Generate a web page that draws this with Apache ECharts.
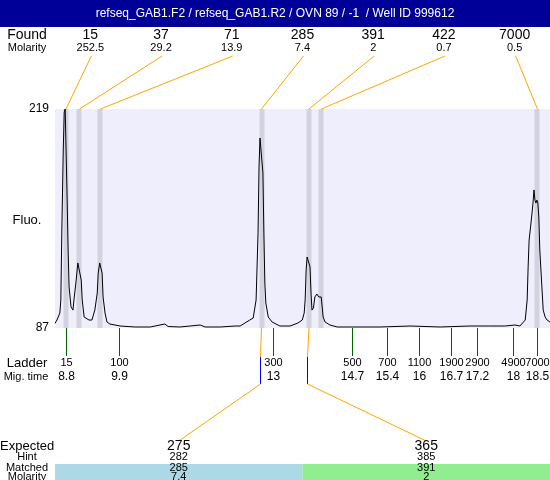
<!DOCTYPE html>
<html><head><meta charset="utf-8">
<script src="https://cdn.jsdelivr.net/npm/echarts@6/dist/echarts.min.js"></script>
<style>html,body{margin:0;padding:0;background:#fff}#c{width:550px;height:480px}</style>
</head><body><div id="c"></div>
<script>
// ---------- DATA ----------
const titleText = 'refseq_GAB1.F2 / refseq_GAB1.R2 / OVN 89 / -1  / Well ID 999612';
// electropherogram trace: [migration time, fluorescence]
const fluoTrace = [
 [8.58,89.8],[8.62,91.8],[8.68,96.0],[8.70,103.9],[8.72,144.3],[8.75,194.3],[8.77,217.2],[8.79,219],[8.81,219],
 [8.83,164.1],[8.85,134.0],[8.87,111.7],[8.91,99.7],[8.95,97.8],[8.97,103.9],[9.01,114.1],[9.05,126.2],[9.08,126.8],
 [9.12,115.9],[9.14,103.9],[9.18,93.6],[9.22,93.0],[9.28,91.8],[9.34,91.8],[9.40,97.8],[9.45,108.1],[9.47,120.1],
 [9.50,126.2],[9.53,126.8],[9.55,120.1],[9.57,105.7],[9.61,96.0],[9.65,90.6],[9.71,89.4],[9.92,88.2],[10.23,87.6],
 [10.54,87.6],[10.84,89.4],[10.91,87.9],[11.15,87.6],[11.36,88.2],[11.57,88.8],[11.67,87.6],[11.98,87.6],[12.29,88.2],
 [12.39,88.2],[12.49,90.0],[12.59,91.8],[12.66,93.0],[12.72,103.9],[12.76,144.3],[12.78,184.1],[12.80,201.5],[12.84,201.5],
 [12.86,180.5],[12.88,144.3],[12.90,114.1],[12.92,102.1],[12.97,93.6],[13.05,90.6],[13.13,89.4],[13.21,88.2],[13.42,88.2],
 [13.58,90.0],[13.67,91.8],[13.71,96.0],[13.73,103.9],[13.75,122.0],[13.77,129.8],[13.80,131.0],[13.83,123.8],[13.85,108.1],
 [13.87,97.8],[13.90,99.1],[13.93,105.7],[13.97,107.5],[14.01,105.7],[14.06,105.7],[14.08,99.7],[14.10,93.6],[14.14,90.6],
 [14.24,88.8],[14.39,87.6],[14.86,87.6],[15.27,87.6],[15.89,88.2],[16.51,87.6],[17.12,88.2],[17.53,88.2],[17.84,88.2],
 [18.05,88.8],[18.15,88.2],[18.19,89.4],[18.26,91.8],[18.30,103.9],[18.32,123.8],[18.34,140.0],[18.37,147.9],[18.40,156.3],
 [18.42,162.3],[18.44,170.2],[18.46,164.1],[18.48,162.3],[18.50,164.1],[18.52,162.3],[18.54,153.9],[18.56,134.0],[18.61,108.1],
 [18.63,97.8],[18.67,93.6],[18.71,91.8],[18.77,90.6]
];
const foundSize = ['15','37','71','285','391','422','7000'];
const foundMolarity = ['252.5','29.2','13.9','7.4','2','0.7','0.5'];
const foundTime = [8.806, 9.084, 9.516, 12.831, 13.809, 14.066, 18.512];

const ladderSize = ['15','100','300','500','700','1100','1900','2900','4900','7000'];
const ladderMigLabel = ['8.8','9.9','13','14.7','15.4','16','16.7','17.2','18','18.5'];
const ladderTime = [8.806, 9.897, 13.067, 14.694, 15.414, 16.073, 16.731, 17.267, 18.008, 18.502];

const expectedSize = ['275','365'];
const hintSize = ['282','385'];
const matchedSize = ['285','391'];
const matchedMolarity = ['7.4','2'];
const matchedTime = [12.831, 13.809];
const matchedColor = ['#ADD8E6','#90EE90'];

const yTicks = [87, 219];
const xRange = [8.58, 18.77];

// ---------- CHART ----------
const FONT = '"Liberation Sans", Arial, Helvetica, sans-serif';
const G = {left:55, top:109, width:495, height:219};
function T(x, y, s, size, extra){
  return {type:'text', x:x, y:y, silent:true, style:Object.assign({
    text:s, fontSize:size, fontFamily:FONT, fill:'#000',
    align:'center', verticalAlign:'middle', textAlign:'center', textVerticalAlign:'middle'
  }, extra||{})};
}
function L(x1,y1,x2,y2,color){
  return {type:'line', silent:true, shape:{x1:x1,y1:y1,x2:x2,y2:y2}, style:{stroke:color, lineWidth:1}};
}

const chart = echarts.init(document.getElementById('c'), null, {renderer:'canvas'});
const option = {
  animation:false,
  backgroundColor:'#ffffff',
  grid:{left:G.left, top:G.top, width:G.width, height:G.height, show:true,
        backgroundColor:'#EEEEFC', borderWidth:0, containLabel:false},
  xAxis:{type:'value', min:xRange[0], max:xRange[1], show:false},
  yAxis:{type:'value', min:yTicks[0], max:yTicks[1], interval:yTicks[1]-yTicks[0],
    axisLine:{show:false}, axisTick:{show:false}, splitLine:{show:false},
    axisLabel:{fontSize:12, color:'#000', margin:6, fontFamily:FONT}},
  graphic:[
    {type:'rect', shape:{x:0,y:0,width:550,height:27}, style:{fill:'#000099'}, silent:true},
    T(275, 14, titleText, 12, {fill:'#ffffff'}),
    T(27, 35, 'Found', 14),
    T(27, 48, 'Molarity', 11),
    T(27, 220, 'Fluo.', 13),
    T(27, 363, 'Ladder', 13),
    T(26, 377, 'Mig. time', 11),
    T(0, 446, 'Expected', 13, {align:'left', textAlign:'left'}),
    T(27, 457, 'Hint', 11),
    T(27, 468, 'Matched', 11),
    T(27, 477, 'Molarity', 11)
  ],
  series:[
    { // peak bands
      type:'custom', z:1, silent:true,
      data: foundTime.map((t,i)=>[t,i]),
      renderItem:function(params, api){
        const cs = params.coordSys;
        const p = api.coord([api.value(0), yTicks[1]]);
        return {type:'rect', shape:{x:Math.round(p[0])-2.5, y:cs.y, width:5, height:cs.height},
                style:{fill:'#D3D3E0'}};
      }
    },
    { // trace
      type:'line', z:3, silent:true, symbol:'none', data:fluoTrace,
      lineStyle:{color:'#000', width:1}
    },
    { // ladder ticks and labels
      type:'custom', z:4, silent:true,
      data: ladderTime.map((t,i)=>[t,i]),
      renderItem:function(params, api){
        const cs = params.coordSys;
        const i = api.value(1);
        const x = Math.round(api.coord([api.value(0), yTicks[0]])[0]) + 0.5;
        const yb = cs.y + cs.height;
        return {type:'group', children:[
          L(x, yb, x, yb+28, '#006400'),
          T(x, yb+35, ladderSize[i], 11),
          T(x, yb+49, ladderMigLabel[i], 12)
        ]};
      }
    },
    { // found peaks labels and connectors
      type:'custom', z:4, silent:true,
      data: foundTime.map((t,i)=>[t,i]),
      renderItem:function(params, api){
        const cs = params.coordSys;
        const i = api.value(1);
        const slot = cs.width / foundSize.length;
        const lx = cs.x + (i+0.5)*slot;
        const px = api.coord([api.value(0), yTicks[1]])[0];
        return {type:'group', children:[
          T(lx, 35, foundSize[i], 14),
          T(lx, 48, foundMolarity[i], 11),
          L(lx+1, 56, px, cs.y, '#FFA500')
        ]};
      }
    },
    { // matched / expected
      type:'custom', z:4, silent:true,
      data: matchedTime.map((t,i)=>[t,i]),
      renderItem:function(params, api){
        const cs = params.coordSys;
        const i = api.value(1);
        const slot = cs.width / matchedSize.length;
        const cx = cs.x + (i+0.5)*slot;
        const px = api.coord([api.value(0), yTicks[0]])[0];
        const yb = cs.y + cs.height;
        const bx = Math.round(px) - 1.5;
        return {type:'group', children:[
          L(px, yb, bx, yb+29, '#FFA500'),
          L(bx, yb+29, bx, yb+56, '#0000FF'),
          L(bx, yb+56, cx, 441, '#FFA500'),
          {type:'rect', silent:true, shape:{x:cs.x + i*slot, y:464, width:slot, height:16}, style:{fill:matchedColor[i]}},
          T(cx, 446, expectedSize[i], 14),
          T(cx, 457, hintSize[i], 11),
          T(cx, 468, matchedSize[i], 11),
          T(cx, 477, matchedMolarity[i], 11)
        ]};
      }
    }
  ]
};
chart.setOption(option);
</script>
</body></html>
